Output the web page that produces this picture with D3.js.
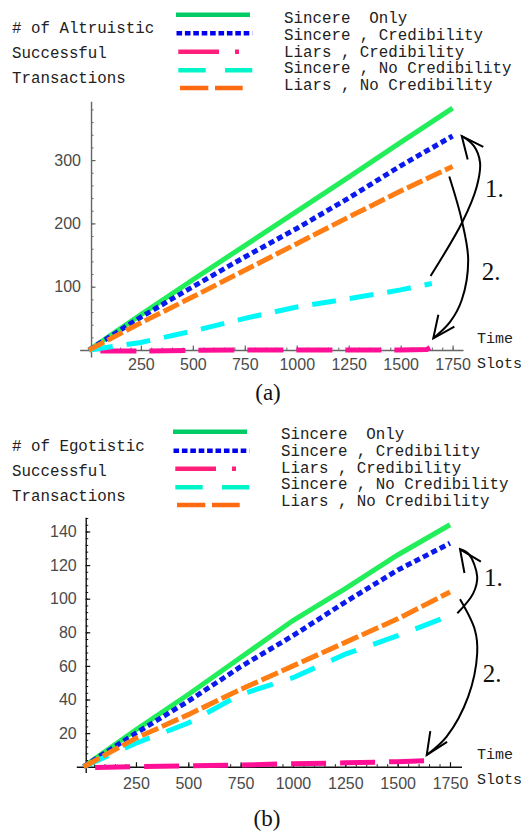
<!DOCTYPE html>
<html>
<head>
<meta charset="utf-8">
<script src="https://cdn.jsdelivr.net/npm/d3@7"></script>
<style>
  body { margin: 0; background: #fff; }
  svg { display: block; }
  text { white-space: pre; }
</style>
</head>
<body>
<script>
// time slots
let slots = [0, 250, 500, 750, 1000, 1250, 1500, 1750]
let slotsShort = [0, 250, 500, 750, 1000, 1250, 1500, 1650]
let slotsLiarsCred = [55, 250, 500, 750, 1000, 1250, 1500, 1625, 1655]
let slotsLiarsCredB = [55, 250, 500, 750, 1000, 1250, 1500, 1650]

// (a) altruistic
let altSincereOnly = [0, 56, 111, 165, 219, 273, 328, 382]
let altSincereCred = [0, 52, 100, 147, 192, 240, 291, 338]
let altLiarsCred = [-1.5, -1.5, -0.5, 0, 0, 0, 0, 1, 6]
let altSincereNoCred = [0, 12, 30, 50, 68, 81, 95, 105]
let altLiarsNoCred = [0, 43, 84, 126, 168, 210, 251, 290]

// (b) egotistic
let egoSincereOnly = [0, 22, 43, 65, 87, 106, 126, 144]
let egoSincereCred = [0, 20, 39, 59.5, 78, 98, 117, 133]
let egoLiarsCred = [-0.5, 0, 0.5, 1, 1.8, 2.3, 3, 3.6]
let egoSincereNoCred = [0, 14, 26, 43, 53, 67, 78, 90]
let egoLiarsNoCred = [0, 17, 31, 46, 60, 74, 88, 104]

// tick labels
let xTicks = [250, 500, 750, 1000, 1250, 1500, 1750]
let yTicksA = [100, 200, 300]
let yTicksB = [20, 40, 60, 80, 100, 120, 140]

let legendNames = ['Sincere  Only', 'Sincere , Credibility', 'Liars , Credibility',
  'Sincere , No Credibility', 'Liars , No Credibility']

// annotation arrows (data space)
let arrowA1 = [[1644, 117], [1798, 203], [1866, 258], [1882, 296], [1853, 322], [1794, 338]]
let arrowA2 = [[1734, 274], [1794, 205], [1825, 142], [1794, 79], [1737, 44], [1657, 18.5]]
let arrowB1 = [[1785, 91.3], [1861, 103.2], [1880, 113.1], [1840, 126.5], [1798, 129.4]]
let arrowB2 = [[1798, 99.6], [1869, 81.4], [1880, 67.5], [1837, 41.7], [1734, 17.9], [1639, 7]]

let width = 526
let height = 835
let mono = "'Liberation Mono', 'Courier New', monospace"
let serif = "'Liberation Serif', 'Times New Roman', serif"
let sans = "'Liberation Sans', Arial, sans-serif"

let plotColors = ['#22ee5a', '#0a1aee', '#ff0f96', '#00f8f8', '#ff7d12']
let legendColors = ['#00cc66', '#0000ee', '#ff1f7a', '#00f5c8', '#ff6a10']

let svg = d3.select('body').append('svg')
  .attr('width', width)
  .attr('height', height)

let defs = svg.append('defs')

function arrowMarker(id, angle) {
  defs.append('marker')
    .attr('id', id)
    .attr('viewBox', '-26 -13 28 26')
    .attr('refX', 0).attr('refY', 0)
    .attr('markerWidth', 28).attr('markerHeight', 26)
    .attr('markerUnits', 'userSpaceOnUse')
    .attr('orient', angle)
    .append('path')
    .attr('d', 'M-22,-10 L0,0 L-22,10')
    .attr('fill', 'none')
    .attr('stroke', '#000')
    .attr('stroke-width', 2)
}

function drawPanel(cfg) {
  let g = svg.append('g')
  let x = d3.scaleLinear().domain(cfg.xDomain).range(cfg.xRange)
  let y = d3.scaleLinear().domain(cfg.yDomain).range(cfg.yRange)

  // minor ticks
  g.append('g')
    .attr('transform', 'translate(0,' + y(0) + ')')
    .attr('color', cfg.axisColor)
    .call(d3.axisBottom(x).tickValues(d3.range(50, 1800, 50)).tickSize(-2.5).tickFormat(''))
    .select('.domain').remove()
  g.append('g')
    .attr('transform', 'translate(' + x(10) + ',0)')
    .attr('color', cfg.axisColor)
    .call(d3.axisLeft(y).tickValues(d3.range(cfg.yMinor, cfg.yDomain[1], cfg.yMinor)).tickSize(-2.5).tickFormat(''))
    .select('.domain').remove()

  // major axes
  let xa = g.append('g')
    .attr('transform', 'translate(0,' + y(0) + ')')
    .attr('color', cfg.axisColor)
    .call(d3.axisBottom(x).tickValues(xTicks).tickFormat(d3.format('d'))
      .tickSize(-4.5).tickSizeOuter(0).tickPadding(cfg.xPad))
  let ya = g.append('g')
    .attr('transform', 'translate(' + x(10) + ',0)')
    .attr('color', cfg.axisColor)
    .call(d3.axisLeft(y).tickValues(cfg.yTicks).tickFormat(d3.format('d'))
      .tickSize(-4.5).tickSizeOuter(0).tickPadding(cfg.yPad))
  ;[xa, ya].forEach(a => {
    a.select('.domain').attr('stroke-width', 1.4)
    a.selectAll('line').attr('stroke-width', 1.2)
    a.selectAll('text')
      .attr('font-family', sans)
      .attr('font-size', 16)
      .attr('fill', '#4a4a4a')
  })

  // series
  let line = d3.line().x(d => x(d[0])).y(d => y(d[1]))
  cfg.series.forEach((s, i) => {
    g.append('path')
      .datum(d3.zip(s.slots, s.values))
      .attr('d', line)
      .attr('fill', 'none')
      .attr('stroke', plotColors[i])
      .attr('stroke-width', 5)
      .attr('stroke-dasharray', s.dash)
  })

  // legend
  let lg = svg.append('g')
  cfg.label.forEach((t, i) => {
    lg.append('text')
      .attr('x', 12)
      .attr('y', cfg.labelY + i * 25)
      .attr('font-family', mono)
      .attr('font-size', 15.8)
      .attr('fill', '#222')
      .text(t)
  })
  let samples = [
    {x0: 176, x1: 250, dash: null},
    {x0: 176.5, x1: 252.3, dash: '5.6,2.8'},
    {x0: 178.3, x1: 239.2, dash: '40.7,16,4,60'},
    {x0: 178.3, x1: 252.3, dash: '27.4,19.3,27.4,40'},
    {x0: 180, x1: 242.7, dash: '28.3,6.7,27.7,40'}
  ]
  samples.forEach((s, i) => {
    lg.append('line')
      .attr('x1', s.x0 + cfg.legendDx)
      .attr('x2', s.x1 + cfg.legendDx)
      .attr('y1', cfg.sampleY[i])
      .attr('y2', cfg.sampleY[i])
      .attr('stroke', legendColors[i])
      .attr('stroke-width', 4.5)
      .attr('stroke-dasharray', s.dash)
    lg.append('text')
      .attr('x', 284 + cfg.legendDx)
      .attr('y', cfg.legendY + i * 16.8)
      .attr('font-family', mono)
      .attr('font-size', 15.8)
      .attr('fill', '#222')
      .text(legendNames[i])
  })

  // arrows
  let curve = d3.line().x(d => x(d[0])).y(d => y(d[1])).curve(d3.curveCatmullRom)
  cfg.arrows.forEach((a, i) => {
    arrowMarker(cfg.id + 'arr' + i, a.angle)
    g.append('path')
      .attr('d', curve(a.pts))
      .attr('fill', 'none')
      .attr('stroke', '#000')
      .attr('stroke-width', 2)
      .attr('marker-end', 'url(#' + cfg.id + 'arr' + i + ')')
  })
  cfg.notes.forEach(n => {
    g.append('text')
      .attr('x', x(n.at[0]))
      .attr('y', y(n.at[1]))
      .attr('font-family', serif)
      .attr('font-size', 25)
      .attr('fill', '#111')
      .text(n.text)
  })

  // Time / Slots
  ;['Time', 'Slots'].forEach((t, i) => {
    g.append('text')
      .attr('x', cfg.timeX)
      .attr('y', cfg.timeY + i * 25)
      .attr('font-family', mono)
      .attr('font-size', 15)
      .attr('fill', '#222')
      .text(t)
  })

  // caption
  g.append('text')
    .attr('x', cfg.capX)
    .attr('y', cfg.capY)
    .attr('text-anchor', 'middle')
    .attr('font-family', serif)
    .attr('font-size', 23)
    .attr('fill', '#111')
    .text(cfg.caption)
}

drawPanel({
  id: 'a',
  xDomain: [-45, 1800], xRange: [79.6, 463.0],
  yDomain: [-11, 393], yRange: [357, 101.2],
  yTicks: yTicksA, yMinor: 20,
  xPad: 9, yPad: 10,
  axisColor: '#666',
  series: [
    {slots: slots, values: altSincereOnly, dash: null},
    {slots: slots, values: altSincereCred, dash: '6,3.5'},
    {slots: slotsLiarsCred, values: altLiarsCred, dash: '36,13'},
    {slots: slotsShort, values: altSincereNoCred, dash: '24,14'},
    {slots: slots, values: altLiarsNoCred, dash: '17,4'}
  ],
  label: ['# of Altruistic', 'Successful', 'Transactions'],
  labelY: 33,
  legendDx: 0,
  sampleY: [14.7, 33.3, 51.7, 70.3, 88],
  legendY: 23,
  arrows: [
    {pts: arrowA1, angle: -128.7},
    {pts: arrowA2, angle: 126.5}
  ],
  notes: [
    {text: '1.', at: [1906, 241]},
    {text: '2.', at: [1890, 110.6]}
  ],
  timeX: 477, timeY: 343,
  capX: 268, capY: 400, caption: '(a)'
})

drawPanel({
  id: 'b',
  xDomain: [-35, 1805], xRange: [76.3, 461.5],
  yDomain: [-3.5, 148.5], yRange: [772.6, 517.2],
  yTicks: yTicksB, yMinor: 4,
  xPad: 11, yPad: 9,
  axisColor: '#111',
  series: [
    {slots: slots, values: egoSincereOnly, dash: null},
    {slots: slots, values: egoSincereCred, dash: '6,3.5'},
    {slots: slotsLiarsCredB, values: egoLiarsCred, dash: '35,14'},
    {slots: slots, values: egoSincereNoCred, dash: '27,18'},
    {slots: slots, values: egoLiarsNoCred, dash: '18,4'}
  ],
  label: ['# of Egotistic', 'Successful', 'Transactions'],
  labelY: 451,
  legendDx: -3,
  sampleY: [431.7, 450.7, 468.7, 487.3, 505],
  legendY: 439,
  arrows: [
    {pts: arrowB1, angle: -125},
    {pts: arrowB2, angle: 122.9}
  ],
  notes: [
    {text: '1.', at: [1912, 107.6]},
    {text: '2.', at: [1906, 50.6]}
  ],
  timeX: 477, timeY: 759,
  capX: 267, capY: 826, caption: '(b)'
})
</script>
</body>
</html>
